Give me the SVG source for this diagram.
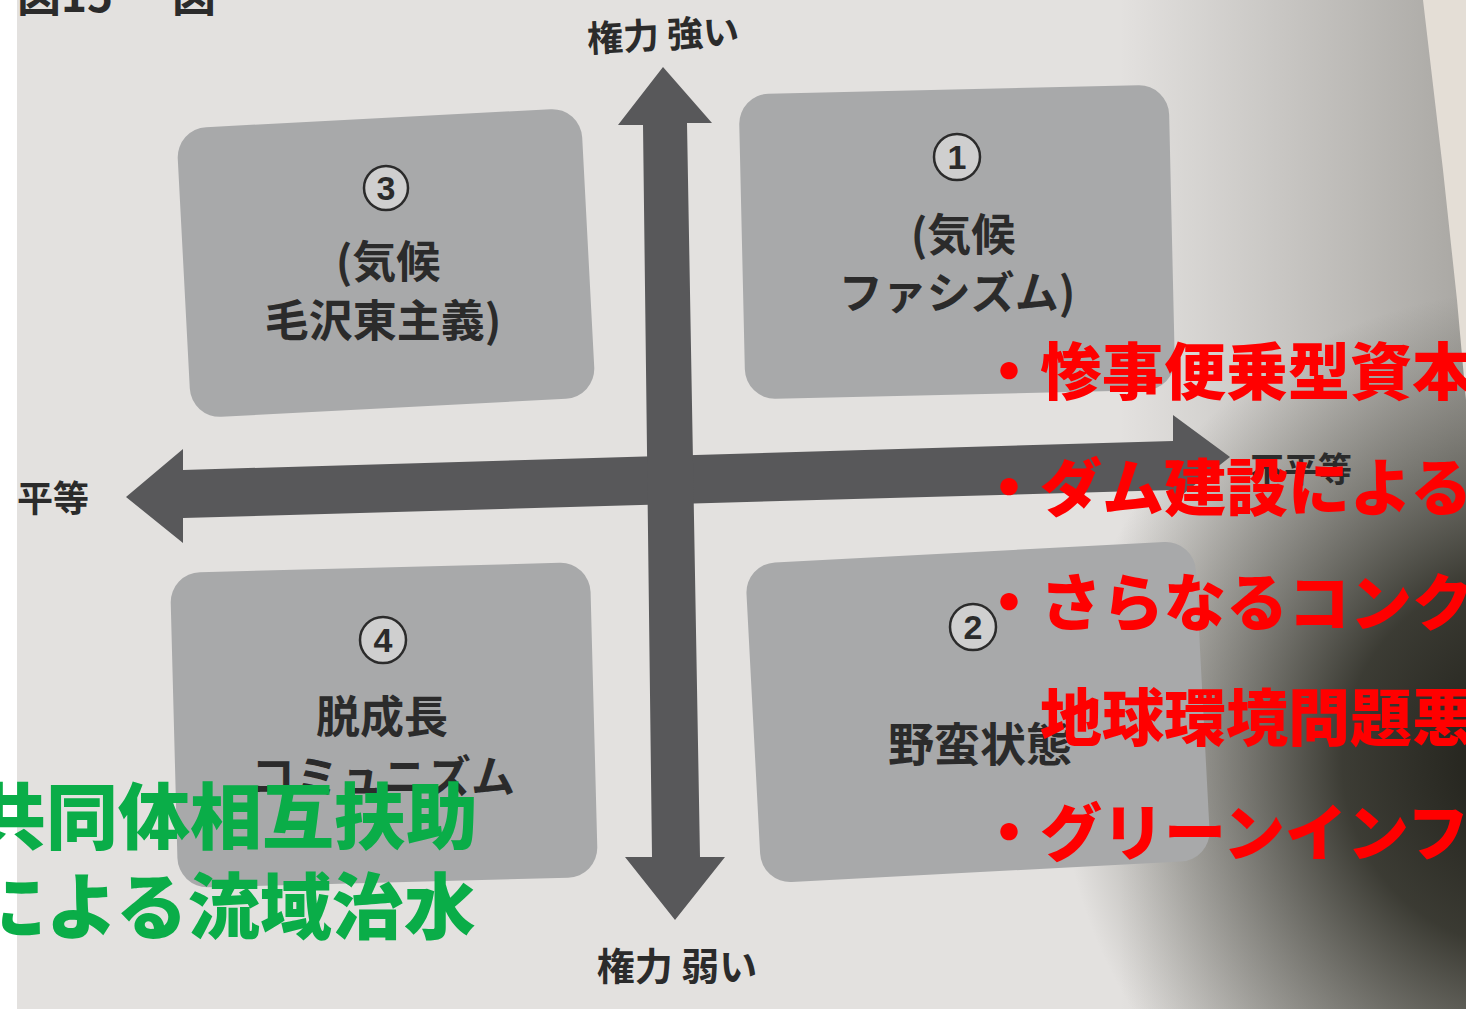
<svg xmlns="http://www.w3.org/2000/svg" width="1466" height="1009" viewBox="0 0 1466 1009">
<defs>
<style>
.ink{font-family:"Noto Sans CJK JP","Noto Sans CJK SC",sans-serif;font-weight:700;fill:#2b2b2b}
.box{fill:#a8a9aa}
.badge{fill:#cfcfcf;stroke:#2b2b2b;stroke-width:2.5}
.num{font-family:"Liberation Sans",Arial,sans-serif;font-weight:700;font-size:34px;fill:#2b2b2b;text-anchor:middle}
.red{font-family:"Noto Sans CJK JP",sans-serif;font-weight:900;font-size:62px;fill:#ff0000}
.green{font-family:"Noto Sans CJK JP",sans-serif;font-weight:900;font-size:72px;fill:#0aad48}
.arrow{fill:#58585a}
</style>
<radialGradient id="shadow" cx="1530" cy="760" r="470" gradientUnits="userSpaceOnUse">
<stop offset="0" stop-color="#1c1c16" stop-opacity="1"/>
<stop offset="0.4" stop-color="#2e2e26" stop-opacity="0.9"/>
<stop offset="0.75" stop-color="#4a4a42" stop-opacity="0.4"/>
<stop offset="1" stop-color="#55554c" stop-opacity="0"/>
</radialGradient>
<linearGradient id="rightfade" x1="1120" y1="0" x2="1466" y2="0" gradientUnits="userSpaceOnUse">
<stop offset="0" stop-color="#7a7872" stop-opacity="0"/>
<stop offset="1" stop-color="#7a7872" stop-opacity="0.55"/>
</linearGradient>
</defs>

<!-- page photo background -->
<rect x="0" y="0" width="1466" height="1009" fill="#e3e1df"/>
<rect x="1120" y="0" width="346" height="1009" fill="url(#rightfade)"/>
<rect x="0" y="0" width="1466" height="1009" fill="url(#shadow)"/>
<polygon points="1423,0 1443,170 1457,300 1466,400 1466,0" fill="#e4ded6"/>
<rect x="0" y="0" width="17" height="1009" fill="#ffffff"/>

<!-- cut-off header -->
<text class="ink" x="17" y="12" font-size="44">図15</text>
<text class="ink" x="172" y="12" font-size="44">図</text>

<!-- nodes -->
<g id="box3">
<rect class="box" x="183.5" y="118" width="405" height="290" rx="30" transform="rotate(-3 386 263)"/>
<circle class="badge" cx="386" cy="188" r="22"/>
<text class="num" x="386" y="200">3</text>
<text class="ink" x="388" y="278" font-size="44" text-anchor="middle">(気候</text>
<text class="ink" x="383" y="337" font-size="44" text-anchor="middle">毛沢東主義)</text>
</g>

<g id="box1">
<rect class="box" x="742" y="89.5" width="430" height="305" rx="30" transform="rotate(-1.3 957 242)"/>
<circle class="badge" cx="957" cy="157" r="23"/>
<text class="num" x="957" y="169">1</text>
<text class="ink" x="963" y="251" font-size="44" text-anchor="middle">(気候</text>
<text class="ink" x="957" y="309" font-size="44" text-anchor="middle">ファシズム)</text>
</g>

<g id="box4">
<rect class="box" x="174" y="567.5" width="420" height="315" rx="30" transform="rotate(-1.5 384 725)"/>
<circle class="badge" cx="383" cy="640" r="23"/>
<text class="num" x="383" y="652">4</text>
<text class="ink" x="382" y="733" font-size="44" text-anchor="middle">脱成長</text>
<text class="ink" x="383" y="793" font-size="44" text-anchor="middle">コミュニズム</text>
</g>

<g id="box2">
<rect class="box" x="753" y="552" width="450" height="320" rx="30" transform="rotate(-3 978 712)"/>
<circle class="badge" cx="973" cy="627" r="23"/>
<text class="num" x="973" y="639">2</text>
<text class="ink" x="980" y="761" font-size="46" text-anchor="middle">野蛮状態</text>
</g>

<!-- connectors: axes -->
<g id="connectors">
<polygon class="arrow" points="126,497 183,449 183,470 1173,441 1173,415 1230,457 1173,502 1173,490 183,518 183,543"/>
<polygon class="arrow" points="663,67 712,123 687,123 700,857 725,857 675,920 625,857 652,857 643,125 618,125"/>
</g>

<!-- axis labels -->
<g id="labels">
<text class="ink" x="663" y="48" font-size="36" text-anchor="middle" transform="rotate(-3 663 35)">権力 強い</text>
<text class="ink" x="677" y="980" font-size="38" text-anchor="middle">権力 弱い</text>
<text class="ink" x="17" y="512" font-size="36">平等</text>
<text class="ink" x="1250" y="482" font-size="34">不平等</text>
</g>

<!-- red annotations -->
<g id="red-notes">
<text class="red" x="978" y="395">・惨事便乗型資本</text>
<text class="red" x="978" y="511">・ダム建設による</text>
<text class="red" x="978" y="626">・さらなるコンク</text>
<text class="red" x="1040" y="741">地球環境問題悪</text>
<text class="red" x="978" y="856">・グリーンインフ</text>
</g>

<!-- green annotation -->
<g id="green-note">
<text class="green" x="-26" y="843">共同体相互扶助</text>
<text class="green" x="-26" y="933">による流域治水</text>
</g>
</svg>
